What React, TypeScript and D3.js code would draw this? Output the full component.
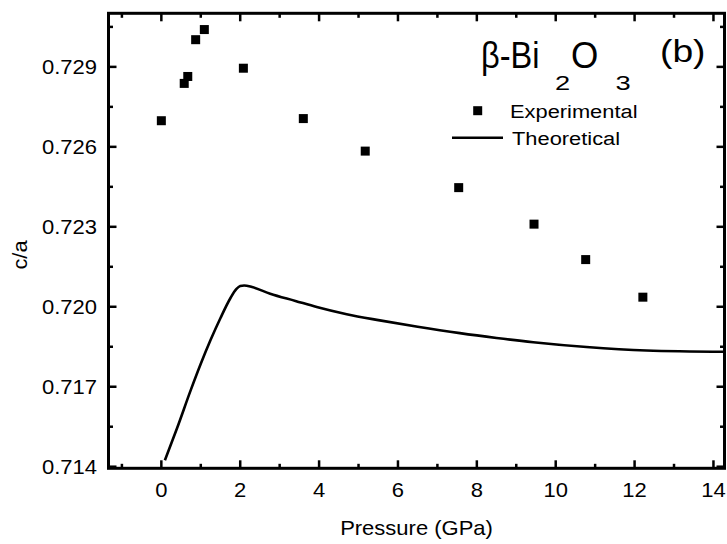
import React from "react";
import * as d3 from "d3";

const expPressure = [0, 0.58, 0.67, 0.87, 1.09, 2.08, 3.6, 5.17, 7.54, 9.45, 10.76, 12.21];
const expCa = [0.72698, 0.72838, 0.72864, 0.73002, 0.7304, 0.72895, 0.72706, 0.72584, 0.72447, 0.7231, 0.72177, 0.72036];

const theoPressure = [0.09, 0.4, 0.75, 1.0, 1.25, 1.5, 1.75, 1.9, 2.0, 2.1, 2.3, 2.76, 3.4, 3.94, 4.7, 5.54, 6.5, 7.57, 8.5, 9.43, 10.78, 12.3, 14.3];
const theoCa = [0.71424, 0.71545, 0.71689, 0.71786, 0.71876, 0.71958, 0.72032, 0.72066, 0.72078, 0.7208, 0.72074, 0.72049, 0.72022, 0.71999, 0.71972, 0.71949, 0.71925, 0.71901, 0.71883, 0.71867, 0.71849, 0.71836, 0.71831];

const xMajorTicks = [0, 2, 4, 6, 8, 10, 12, 14];
const xMinorTicks = [-1, 1, 3, 5, 7, 9, 11, 13];
const yMajorTicks = [0.714, 0.717, 0.72, 0.723, 0.726, 0.729];
const yMinorTicks = [0.7155, 0.7185, 0.7215, 0.7245, 0.7275, 0.7305];

const W = 727;
const H = 544;
const L = 108.5, R = 724.5, T = 13.3, B = 468.3;
const FONT = "'Liberation Sans', Arial, sans-serif";

function Txt({ x, y, size, sx = 1.12, anchor = "start", rotate = 0, children }: any) {
  return (
    <text
      transform={`translate(${x},${y}) rotate(${rotate}) scale(${sx},1)`}
      fontFamily={FONT}
      fontSize={size}
      textAnchor={anchor}
      fill="#000"
    >
      {children}
    </text>
  );
}

export default function App() {
  const x = d3.scaleLinear().domain([-1.34, 14.28]).range([L, R]);
  const y = d3.scaleLinear().domain([0.71394, 0.73101]).range([B, T]);

  const line = d3
    .line<number>()
    .x((_, i) => x(theoPressure[i]))
    .y((d) => y(d))
    .curve(d3.curveMonotoneX);

  const major = 8;
  const minor = 4.5;
  const tickW = 2.5;
  const sq = 9;

  return (
    <svg width={W} height={H} style={{ position: "absolute", left: 0, top: 0, background: "#fff" }}>
      <rect x={0} y={0} width={W} height={H} fill="#fff" />
      {/* curve */}
      <path d={line(theoCa) || ""} fill="none" stroke="#000" strokeWidth={2.6} strokeLinejoin="round" />
      {/* points */}
      {expPressure.map((p, i) => (
        <rect key={i} x={x(p) - sq / 2} y={y(expCa[i]) - sq / 2} width={sq} height={sq} fill="#000" />
      ))}
      {/* ticks */}
      <g stroke="#000" strokeWidth={tickW}>
        {xMajorTicks.map((t) => (
          <g key={"xm" + t}>
            <line x1={x(t)} x2={x(t)} y1={B} y2={B - major} />
            <line x1={x(t)} x2={x(t)} y1={T} y2={T + major} />
          </g>
        ))}
        {xMinorTicks.map((t) => (
          <g key={"xn" + t}>
            <line x1={x(t)} x2={x(t)} y1={B} y2={B - minor} />
            <line x1={x(t)} x2={x(t)} y1={T} y2={T + minor} />
          </g>
        ))}
        {yMajorTicks.map((t) => (
          <g key={"ym" + t}>
            <line x1={L} x2={L + major} y1={y(t)} y2={y(t)} />
            <line x1={R} x2={R - major} y1={y(t)} y2={y(t)} />
          </g>
        ))}
        {yMinorTicks.map((t) => (
          <g key={"yn" + t}>
            <line x1={L} x2={L + minor} y1={y(t)} y2={y(t)} />
            <line x1={R} x2={R - minor} y1={y(t)} y2={y(t)} />
          </g>
        ))}
      </g>
      {/* frame */}
      <rect x={L} y={T} width={R - L} height={B - T} fill="none" stroke="#000" strokeWidth={3} />
      {/* tick labels */}
      {xMajorTicks.map((t) => (
        <Txt key={"xl" + t} x={x(t)} y={497} size={20} sx={1.1} anchor="middle">
          {String(t)}
        </Txt>
      ))}
      {yMajorTicks.map((t) => (
        <Txt key={"yl" + t} x={97} y={y(t) + 7} size={20} sx={1.1} anchor="end">
          {d3.format(".3f")(t)}
        </Txt>
      ))}
      {/* axis titles */}
      <Txt x={416.5} y={535} size={20} sx={1.1} anchor="middle">
        Pressure (GPa)
      </Txt>
      <Txt x={26.5} y={255} size={19.5} sx={1.12} anchor="middle" rotate={-90}>
        c/a
      </Txt>
      {/* title */}
      <Txt x={481} y={68} size={37} sx={0.88}>β-Bi</Txt>
      <Txt x={555} y={90} size={21} sx={1.3}>2</Txt>
      <Txt x={571} y={68} size={37} sx={0.95}>O</Txt>
      <Txt x={615.5} y={90} size={21} sx={1.3}>3</Txt>
      <Txt x={660} y={62} size={31} sx={1.2}>(b)</Txt>
      {/* legend */}
      <rect x={477.7 - sq / 2} y={110.7 - sq / 2} width={sq} height={sq} fill="#000" />
      <line x1={452} x2={503} y1={137.7} y2={137.7} stroke="#000" strokeWidth={2.5} />
      <Txt x={510} y={118.3} size={19} sx={1.15}>
        Experimental
      </Txt>
      <Txt x={512} y={145} size={19} sx={1.15}>
        Theoretical
      </Txt>
    </svg>
  );
}
